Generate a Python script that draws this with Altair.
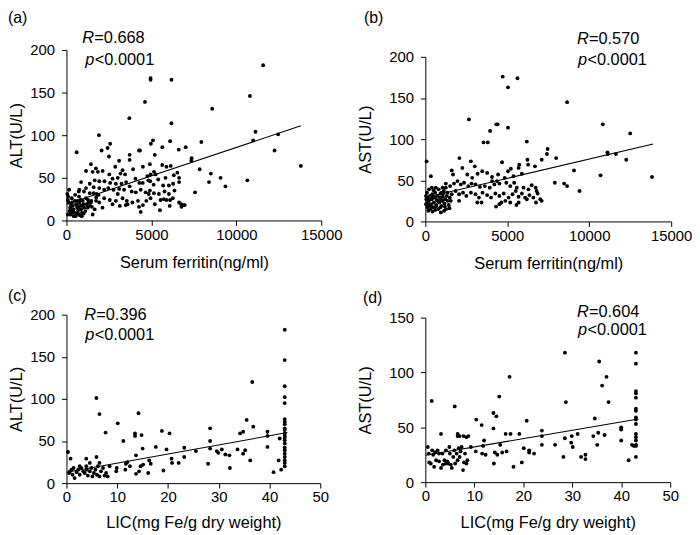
import altair as alt
import pandas as pd

FONT = "Liberation Sans"

# ---------------- Panel (a): Serum ferritin vs ALT ----------------
a_x = [11580, 4950, 4950, 6180, 4620, 10800, 8580, 3700, 6180, 1910, 11130, 12460, 10990, 5090, 4970, 6100, 7940, 5640, 7020, 6610,
       2420, 2570, 2070, 4270, 4330, 12250, 600, 2500, 3720, 3720, 7370, 7350, 3100, 5200, 8500, 7840, 9070, 9360, 10650, 13800,
       8390, 7570, 6900, 6750, 6770, 6960,
       1440, 1735, 1850, 2870, 3300, 3920, 4500, 4910, 5890, 6140, 5640, 5150, 6530, 4950, 1540, 1150, 2130, 2520, 3180, 3450,
       4060, 4760, 5250, 5830, 6320, 6630,
       860, 1370, 1660, 1930, 2240, 2570, 2910, 3240, 3510, 3720, 4290, 4490, 4820, 5130, 5400, 5690, 6030, 6280, 6630, 3020, 2710, 4930,
       1150, 1600, 1930, 2220, 2460, 2770, 3100, 3390, 3840, 4080, 4370, 4660, 4910, 5150, 5440, 5770, 6030, 6360, 1030, 720, 1370,
       1770, 3020, 4840,
       2220, 2550, 2910, 3300, 3550, 3590, 3880, 4210, 4500, 4700, 4950, 5200, 5540, 5730, 5890, 6100, 6260, 6630, 1930, 1740, 1440,
       2710, 3140, 4270, 3490, 4370, 5500, 6080, 1500, 2120,
       80, 175, 215, 270, 120, 80, 100, 155, 370, 410, 470, 530, 565, 625, 680, 720, 760, 800, 860, 915, 955, 995, 1050, 1110, 1190,
       1250, 1310, 1385, 1460, 1540, 1660, 235, 330, 490, 645, 840, 430, 585, 900, 1015, 740, 1150, 310, 510, 605, 700, 915, 255,
       350, 800, 1270, 1750, 1890, 1600, 760, 50]
a_y = [182, 167, 165, 165, 139, 146, 131, 120, 114, 100, 104, 101, 94, 94, 90, 93, 92, 86, 86, 83,
       85, 90, 82, 82, 82, 82, 80, 75, 77, 71, 73, 70, 70, 77, 55, 60, 50, 40, 47, 64,
       45, 33, 18, 19, 16, 18,
       66, 61, 57, 63, 59, 60, 63, 66, 63, 64, 65, 57, 56, 54, 57, 58, 58, 54, 55, 54,
       49, 52, 54, 50, 53, 50,
       45, 43, 47, 46, 46, 44, 43, 43, 45, 40, 44, 44, 47, 42, 48, 41, 41, 43, 45, 50, 49, 46,
       38, 39, 38, 36, 38, 36, 37, 36, 34, 33, 36, 33, 35, 32, 31, 34, 31, 35, 34, 34, 32,
       31, 31, 31,
       26, 24, 23, 26, 23, 19, 21, 23, 18, 23, 26, 19, 24, 25, 24, 24, 26, 21, 21, 23, 21,
       19, 17, 16, 18, 10, 12, 17, 16, 15,
       7, 11, 15, 18, 21, 24, 28, 36, 17, 13, 9, 5, 19, 15, 11, 7, 21, 17, 13, 9, 23, 19, 15, 11, 19,
       15, 21, 17, 23, 7, 13, 7, 21, 23, 23, 24, 5, 8, 5, 8, 28, 26, 26, 30, 18, 14, 17, 12,
       9, 6, 24, 27, 30, 32, 36, 31]
a_line_x = [0, 13800]
a_line_y = [19, 111]

# ---------------- Panel (b): Serum ferritin vs AST ----------------
b_x = [4720, 5040, 5620, 8650, 2660, 4330, 4410, 3950, 10830, 12500, 5040, 3550, 3810, 6190, 7460, 7420, 7980, 11110, 11130, 11630,
       12260, 9070, 10690, 13830, 9410, 8470, 8650, 7900, 7010, 80, 340, 2080, 2780, 4680, 6270, 5730, 5690, 6690, 6230, 7100,
       1610, 1690, 2260, 2560, 3020, 3190, 3470, 3770, 4070, 4440, 5040, 5220, 5380, 5890, 4840, 4370, 4070, 2860,
       1960, 2160, 2360, 2620, 2820, 3060, 3330, 3630, 3930, 4210, 4520, 4940, 5180, 5420, 5580, 5990, 6290, 6490, 6730, 1510, 1250, 1750,
       1850, 2060, 2300, 2500, 2780, 3060, 3270, 3490, 3770, 4010, 4270, 4520, 4780, 5080, 5320, 5520, 5690, 5890, 6090, 6350, 6590,
       6790, 6850,
       3170, 3430, 4310, 4520, 4640, 4880, 5180, 5560, 5690, 6190, 6750, 7100, 2060,
       100, 140, 160, 200, 240, 280, 340, 380, 420, 480, 520, 560, 600, 665, 705, 745, 790, 850, 890, 930, 990, 1030, 1070, 1130,
       1170, 1210, 1270, 1310, 1370, 1430, 1490, 1550, 1610, 180, 300, 440, 600, 950, 1150, 220, 400, 640, 810, 1050, 1250, 500,
       745, 480, 950, 1090, 1350, 40, 60, 40, 120, 360, 640, 910, 1190, 1470, 990]
b_y = [176, 163, 174, 145, 124, 118, 118, 110, 118, 107, 114, 96, 96, 97, 88, 82, 77, 84, 82, 82,
       75, 62, 56, 54, 37, 46, 43, 47, 27, 73, 55, 77, 73, 72, 69, 69, 65, 67, 75, 75,
       62, 57, 65, 57, 67, 58, 61, 59, 54, 57, 61, 64, 55, 58, 53, 49, 49, 53,
       49, 45, 47, 43, 46, 45, 42, 43, 41, 45, 46, 47, 43, 47, 41, 41, 39, 44, 41, 43, 46, 46,
       37, 33, 35, 31, 35, 33, 29, 35, 32, 29, 34, 31, 34, 29, 33, 37, 30, 34, 29, 32, 29,
       37, 34,
       23, 23, 18, 21, 23, 25, 23, 20, 23, 27, 23, 25, 25,
       35, 29, 23, 19, 26, 31, 21, 27, 33, 17, 23, 29, 35, 20, 26, 31, 15, 23, 29, 34, 19, 25, 30, 37,
       22, 27, 15, 31, 25, 20, 29, 25, 33, 13, 15, 12, 14, 11, 13, 39, 41, 41, 39, 41, 41, 38,
       25, 29, 26, 34, 35, 21, 27, 31, 17, 18, 18, 17, 18, 16, 35]
b_line_x = [0, 13900]
b_line_y = [29, 94]

# ---------------- Panel (c): LIC vs ALT ----------------
c_x = [43, 43, 43, 43, 43, 43, 43, 43, 43, 43, 43, 43, 43, 43, 43, 43, 43, 43, 43, 43, 43, 43,
       42, 41.8, 42.3, 40.8,
       5.9, 6.5, 14.2, 7.7, 10.1, 11.2, 13.5, 13.5, 14.8, 15, 13.7, 17.6, 18.8, 19.7, 20.3, 20.7, 20.8, 22.1, 23.2, 23.2, 25.5,
       28.3, 28.3, 28.3, 27.9, 29.6, 29.9, 30.6, 31.3, 32.1, 32.2, 33.7, 34.2, 34.8, 34.8, 35.2, 35.5, 36.2, 36.6, 36.8, 39.6,
       39.6, 39.6,
       0.3, 0.8, 3.9, 0.5, 0.7, 1, 1.2, 1.4, 1.6, 2, 2.3, 2.6, 2.9, 3.3, 3.6, 4, 4.2, 4.6, 4.9, 5.1, 5.4, 5.7, 6, 6.2, 6.5, 6.8,
       7.2, 7.5, 7.8, 8.1, 8.5, 3.9, 2.6, 9.8, 9.9, 11.6, 11.7, 12, 12.5, 13.7, 14.3, 14.6, 15.1, 16.3, 16.6, 16.1, 19.1, 6.5,
       5.9, 4.6]
c_y = [182, 146, 115, 102, 95, 76, 73, 70, 65, 63, 59, 56, 54, 51, 47, 42, 39, 35, 31, 27, 24, 20,
       53, 27, 16, 13,
       101, 82, 83, 60, 71, 50, 59, 56, 57, 41, 33, 43, 62, 40, 59, 29, 24, 24, 31, 42, 38,
       65, 50, 41, 23, 38, 36, 40, 34, 33, 18, 40, 59, 61, 35, 39, 75, 27, 120, 67, 61,
       56, 43,
       37, 29, 29, 12, 14, 16, 10, 18, 6, 13, 16, 10, 18, 14, 12, 16, 9, 14, 18, 8, 12, 16, 10, 20, 8, 14,
       18, 9, 12, 8, 20, 20, 20, 14, 18, 16, 23, 25, 20, 11, 14, 20, 22, 27, 23, 12, 15, 24,
       31, 24]
c_line_x = [0, 43.5]
c_line_y = [13, 60]

# ---------------- Panel (d): LIC vs AST ----------------
d_x = [43, 43, 43, 43, 43, 43, 43, 43, 43, 43, 43, 43, 43, 43, 43, 43, 42.2, 42.6,
       1.3, 6, 28.5, 35.5, 36.1, 37, 37.4, 28.7, 17.2, 15.1, 13.9, 14.5, 10.4, 11.5, 13.9, 20.7, 16.4, 17.4, 19.2, 23.8, 23.8,
       34.6, 34.3, 35.1, 35.3, 36.6, 40, 40, 40, 41.5, 28.5, 29.9, 29.8, 30.1, 31.1, 28.2, 31.8, 32.7, 32.7, 26.5, 23.8, 22.2,
       21.2, 21.2, 20.1, 19.7, 18, 16.6, 15.7, 15.3, 14.7, 14.2, 14, 12, 11.8, 11.6, 12.3, 9.3, 10.3, 8.8, 8.4, 7.8, 7, 6.6, 3.2,
       6.6,
       0.5, 0.7, 0.8, 1.1, 1.6, 1.8, 2.2, 2.5, 2.8, 3.2, 3.5, 3.9, 4.2, 4.5, 4.9, 5, 5.2, 5.4, 5.7, 5.9, 6.1, 6.4, 6.6, 6.8, 7,
       7.2, 7.4, 7.7, 7.9, 8.4, 8.6, 8.1, 4.2, 3.6, 4.7, 2, 2.8, 1.4]
d_y = [118, 108, 83, 81, 77, 67, 65, 59, 57, 53, 44, 41, 38, 34, 33, 23, 34, 33,
       74, 69, 118, 110, 88, 96, 73, 73, 96, 78, 63, 60, 57, 52, 49, 56, 44, 44, 44, 47, 42,
       58, 42, 34, 45, 43, 50, 48, 38, 20, 40, 42, 36, 32, 44, 23, 23, 25, 21, 34, 34, 26,
       29, 27, 31, 18, 14, 28, 27, 34, 25, 27, 17, 38, 33, 26, 25, 32, 28, 42, 41, 42, 42, 42, 44,
       44,
       32, 26, 18, 17, 25, 14, 20, 29, 19, 13, 26, 20, 29, 19, 32, 26, 16, 13, 23, 29, 17, 26, 20, 31, 23,
       28, 32, 11, 18, 17, 20, 26, 17, 16, 17, 27, 26, 29]
d_line_x = [0, 43.5]
d_line_y = [24.5, 57.5]

# ---------------- Text ----------------
tags = ["(a)", "(b)", "(c)", "(d)"]
r_values = ["=0.668", "=0.570", "=0.396", "=0.604"]
p_text = "<0.0001"
ferritin_ticks = [0, 5000, 10000, 15000]
lic_ticks = [0, 10, 20, 30, 40, 50]
alt_ticks = [0, 50, 100, 150, 200]
ast_ticks_d = [0, 50, 100, 150]

one = pd.DataFrame({"k": [0]})


def txt(s, x, y, size=16.5, style="normal", baseline="alphabetic"):
    return alt.Chart(one).mark_text(
        text=s, font=FONT, fontSize=size, fontStyle=style, align="left",
        baseline=baseline, color="black"
    ).encode(x=alt.value(x), y=alt.value(y))


def panel(xs, ys, lx, ly, xdom, ydom, xticks, yticks, xtitle, ytitle, w, h,
          tag, tag_pos, rv, r_pos, p_pos, ytp, xtp):
    xsc = alt.Scale(domain=xdom, nice=False, zero=False)
    ysc = alt.Scale(domain=ydom, nice=False, zero=False)
    xax = alt.Axis(values=xticks, title=xtitle, titlePadding=xtp, labelFlush=False, format="d")
    yax = alt.Axis(values=yticks, title=ytitle, titlePadding=ytp, format="d")
    pts = alt.Chart(pd.DataFrame({"x": xs, "y": ys})).mark_circle(
        size=15, color="black", opacity=1
    ).encode(x=alt.X("x:Q", scale=xsc, axis=xax), y=alt.Y("y:Q", scale=ysc, axis=yax))
    line = alt.Chart(pd.DataFrame({"x": lx, "y": ly})).mark_line(
        color="black", strokeWidth=1.1
    ).encode(x="x:Q", y="y:Q")
    layers = [
        pts, line,
        txt(tag, tag_pos[0], tag_pos[1], size=16, baseline="top"),
        txt("R", r_pos[0], r_pos[1], style="italic"),
        txt(rv, r_pos[0] + 12, r_pos[1]),
        txt("p", p_pos[0], p_pos[1], style="italic"),
        txt(p_text, p_pos[0] + 9.5, p_pos[1]),
    ]
    return alt.layer(*layers).properties(width=w, height=h)


def spacer(h):
    return alt.Chart(one).mark_point(opacity=0).properties(width=1, height=h)


pa = panel(a_x, a_y, a_line_x, a_line_y, [0, 15000], [0, 200], ferritin_ticks, alt_ticks,
           "Serum ferritin(ng/ml)", "ALT(U/L)", 257, 172, tags[0], (-59, -40), r_values[0], (16, -7), (19, 15), 5, 12)
pb = panel(b_x, b_y, b_line_x, b_line_y, [0, 15000], [0, 200], ferritin_ticks, alt_ticks,
           "Serum ferritin(ng/ml)", "AST(U/L)", 248, 166, tags[1], (-62, -47), r_values[1], (153, -13), (154, 8), 15, 12)
pc = panel(c_x, c_y, c_line_x, c_line_y, [0, 50], [0, 200], lic_ticks, alt_ticks,
           "LIC(mg Fe/g dry weight)", "ALT(U/L)", 256, 170, tags[2], (-59, -27), r_values[2], (18, 5), (19, 26), 5, 10)
pd_ = panel(d_x, d_y, d_line_x, d_line_y, [0, 50], [0, 150], lic_ticks, ast_ticks_d,
            "LIC(mg Fe/g dry weight)", "AST(U/L)", 247, 166, tags[3], (-63, -28), r_values[3], (153, -1), (154, 18), 15, 11)

row1 = alt.hconcat(pa, alt.vconcat(spacer(7), pb, spacing=0, bounds="flush"), spacing=105, bounds="flush")
row2 = alt.hconcat(pc, alt.vconcat(spacer(3), pd_, spacing=0, bounds="flush"), spacing=106, bounds="flush")

chart = alt.vconcat(row1, row2, spacing=16, bounds="full").properties(
    padding=0
).configure_view(strokeWidth=0).configure_axis(
    grid=False, domainColor="black", tickColor="black", labelColor="black", titleColor="black",
    labelFont=FONT, titleFont=FONT, labelFontSize=15, titleFontSize=16.5, titleFontWeight="normal",
    tickSize=5, domainWidth=1, tickWidth=1
).configure_axisX(labelPadding=2).configure_axisY(labelPadding=7)

chart.save("out.html", embed_options={"renderer": "svg", "actions": False})
